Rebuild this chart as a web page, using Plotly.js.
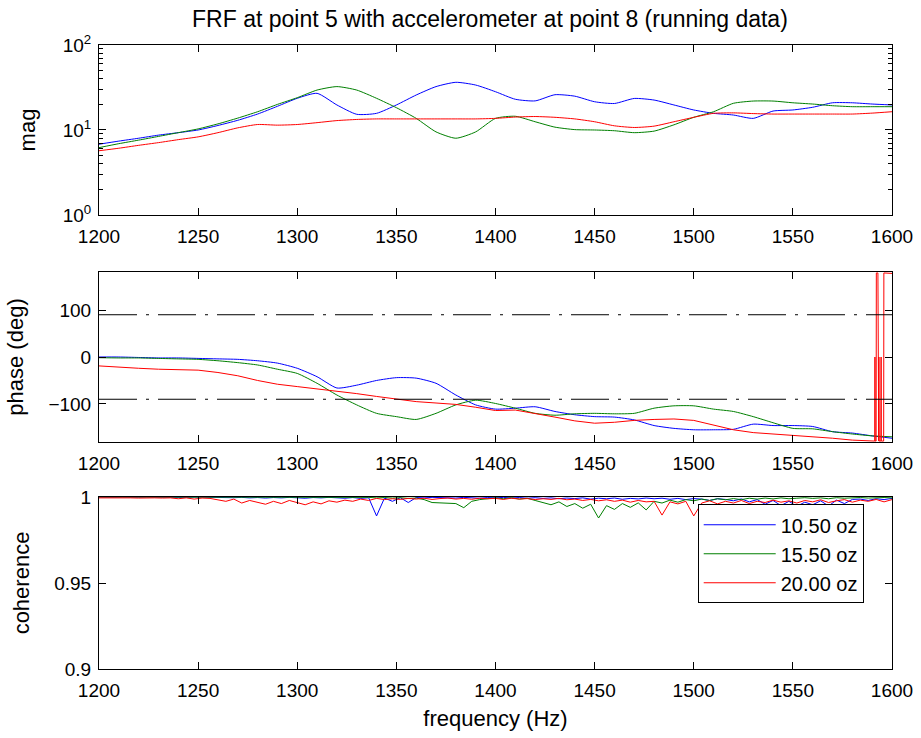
<!DOCTYPE html>
<html>
<head>
<meta charset="utf-8">
<script src="https://cdn.plot.ly/plotly-3.0.1.min.js"></script>
<style>html,body{margin:0;padding:0;background:#fff;}#chart{width:921px;height:738px;}</style>
</head>
<body>
<div id="chart"></div>
<script>
// ---------- data ----------
const seriesNames = ['10.50 oz', '15.50 oz', '20.00 oz'];
const seriesColors = ['#0000ff', '#007f00', '#ff0000'];

const freq = [1200,1210,1220,1230,1240,1250,1260,1270,1280,1290,1300,1310,1320,1330,1340,1350,1360,1370,1380,1390,
  1400,1410,1420,1430,1440,1450,1460,1470,1480,1490,1500,1510,1520,1530,1540,1550,1560,1570,1580,1590,1600];

const magBlue = [6.8,7.4,8.0,8.7,9.3,10.0,11.3,13.0,15.4,19.0,23.6,27.0,19.7,15.3,15.7,19.7,25.8,32.4,36.4,33.8,
  28.2,23.0,22.0,26.0,25.0,21.5,20.5,23.5,22.5,19.7,17.2,15.7,15.0,13.7,16.7,17.2,18.5,20.9,20.9,20.2,19.7];
const magGreen = [6.2,6.9,7.6,8.4,9.3,10.3,11.8,13.8,16.4,20.0,24.0,29.5,32.4,29.5,23.6,18.3,13.7,9.5,8.0,9.5,
  13.7,14.5,12.5,10.8,10.1,10.0,9.8,9.3,9.7,11.5,14.1,16.4,20.6,21.9,21.9,20.9,20.2,19.3,18.8,18.8,18.8];
const magRed = [5.7,6.1,6.6,7.1,7.7,8.3,9.3,10.6,11.6,11.4,11.6,12.2,12.9,13.3,13.5,13.5,13.5,13.5,13.5,13.5,
  13.7,14.2,14.4,14.1,13.5,12.5,11.2,10.7,11.1,12.5,14.1,15.7,15.9,15.6,15.4,15.4,15.4,15.4,15.4,15.8,16.4];

const phaseBlue = [0,0,-1,-2,-2,-3,-4,-5,-8,-13,-24,-42,-66,-60,-50,-44,-45,-56,-81,-102,
  -111,-109,-106,-116,-123,-127,-128,-134,-146,-152,-155,-155,-154,-143,-146,-146,-148,-159,-162,-168,-173];
const phaseGreen = [-1.5,-2,-2,-3,-4,-5,-8,-12,-17,-26,-35,-56,-81,-102,-120,-127,-133,-120,-102,-92,
  -99,-109,-120,-124,-121,-120,-121,-120,-109,-104,-104,-111,-116,-127,-140,-152,-153,-159,-164,-168,-170];
const phaseRedFreq = [1200,1210,1220,1230,1240,1250,1260,1270,1280,1290,1300,1310,1320,1330,1340,1350,1360,1370,1380,1390,
  1400,1410,1420,1430,1440,1450,1460,1470,1480,1490,1500,1510,1520,1530,1540,1550,1560,1570,1580,1590,
  1591.3,1591.4,1591.5,1592.0,1592.1,1592.9,1593.0,1593.3,1593.4,1593.5,1594.4,1594.5,1594.6,1595.8,1595.9,1600];
const phaseRed = [-19,-22,-24,-26,-27,-28,-33,-40,-50,-58,-63,-68,-72,-78,-84,-90,-95,-98,-101,-107,
  -114,-113,-120,-128,-136,-141,-139,-135,-133,-132,-135,-145,-155,-161,-164,-166,-170,-173,-177,-179,
  -179,0,-179,-179,179,179,-179,-179,0,-179,-179,0,-179,-179,179,178];

const phaseRefLevels = [90, -90];

const cohFreq = [1200,1204,1208,1212,1216,1220,1224,1228,1232,1236,1240,1244,1248,1252,1256,1260,1264,1268,1272,1276,
  1280,1284,1288,1292,1296,1300,1304,1308,1312,1316,1320,1324,1328,1332,1336,1340,1344,1348,1352,1356,
  1360,1364,1368,1372,1376,1380,1384,1388,1392,1396,1400,1404,1408,1412,1416,1420,1424,1428,1432,1436,
  1440,1444,1448,1452,1456,1460,1464,1468,1472,1476,1480,1484,1488,1492,1496,1500,1504,1508,1512,1516,
  1520,1524,1528,1532,1536,1540,1544,1548,1552,1556,1560,1564,1568,1572,1576,1580,1584,1588,1592,1596,1600];
const cohBlue = [1.0,0.9998,0.9999,1.0,0.9998,0.9999,1.0,0.9999,0.9998,1.0,
  0.9999,0.9998,1.0,0.9999,0.9997,0.9999,0.9998,0.9996,0.9998,0.9995,
  0.9997,0.9994,0.9997,0.9995,0.9998,0.9996,0.9993,0.9997,0.9995,0.9998,
  0.9996,0.9993,0.9997,0.9992,0.9996,0.9890,0.9994,0.9975,0.9996,0.9968,
  0.9997,0.9995,0.9998,0.9996,0.9997,0.9994,0.9998,0.9996,0.9993,0.9997,
  0.9995,0.9998,0.9994,0.9997,0.9993,0.9996,0.9992,0.9995,0.9990,0.9994,
  0.9991,0.9995,0.9988,0.9993,0.9990,0.9994,0.9987,0.9992,0.9989,0.9994,
  0.9990,0.9993,0.9987,0.9992,0.9985,0.9991,0.9988,0.9980,0.9990,0.9986,
  0.9978,0.9989,0.9972,0.9985,0.9958,0.9980,0.9950,0.9975,0.9946,0.9970,
  0.9955,0.9978,0.9948,0.9982,0.9962,0.9986,0.9988,0.9980,0.9990,0.9985,
  0.9992];
const cohGreen = [1.0,1.0,0.9999,1.0,1.0,0.9999,1.0,1.0,0.9999,1.0,
  1.0,0.9999,1.0,1.0,0.9999,1.0,0.9999,1.0,0.9998,1.0,
  0.9999,1.0,0.9998,0.9999,1.0,0.9998,0.9999,0.9997,0.9999,0.9998,
  0.9999,0.9997,0.9998,0.9996,0.9998,0.9995,0.9997,0.9994,0.9996,0.9992,
  0.9994,0.9985,0.9968,0.9966,0.9964,0.9962,0.9938,0.9975,0.9985,0.9992,
  0.9995,0.9990,0.9996,0.9988,0.9993,0.9980,0.9968,0.9955,0.9972,0.9945,
  0.9962,0.9935,0.9958,0.9878,0.9950,0.9928,0.9962,0.9940,0.9966,0.9925,
  0.9975,0.9965,0.9982,0.9970,0.9985,0.9978,0.9988,0.9980,0.9990,0.9984,
  0.9991,0.9985,0.9993,0.9988,0.9994,0.9989,0.9995,0.9990,0.9993,0.9996,
  0.9992,0.9995,0.9990,0.9996,0.9993,0.9995,0.9997,0.9994,0.9996,0.9997,
  0.9995];
const cohRed = [0.9995,0.9996,0.9995,0.9996,0.9995,0.9994,0.9996,0.9995,0.9994,0.9995,
  0.9990,0.9995,0.9988,0.9994,0.9992,0.9985,0.9975,0.9988,0.9965,0.9980,
  0.9970,0.9958,0.9975,0.9962,0.9980,0.9968,0.9955,0.9972,0.9960,0.9978,
  0.9970,0.9982,0.9975,0.9988,0.9980,0.9992,0.9985,0.9990,0.9986,0.9992,
  0.9988,0.9993,0.9986,0.9991,0.9994,0.9988,0.9992,0.9987,0.9993,0.9990,
  0.9992,0.9986,0.9993,0.9988,0.9991,0.9985,0.9990,0.9986,0.9992,0.9984,
  0.9988,0.9980,0.9986,0.9978,0.9984,0.9975,0.9982,0.9970,0.9980,0.9972,
  0.9975,0.9895,0.9972,0.9960,0.9975,0.9890,0.9965,0.9978,0.9960,0.9975,
  0.9965,0.9980,0.9962,0.9975,0.9968,0.9982,0.9970,0.9978,0.9965,0.9980,
  0.9972,0.9984,0.9968,0.9978,0.9985,0.9970,0.9982,0.9975,0.9986,0.9972,
  0.9985];

const xTicks = [1200,1250,1300,1350,1400,1450,1500,1550,1600];
const magTicks = [1, 10, 100];
const magTickText = ['10<sup>0</sup>', '10<sup>1</sup>', '10<sup>2</sup>'];
const magMinorTicks = [2,3,4,5,6,7,8,9,20,30,40,50,60,70,80,90];
const phaseTicks = [-100, 0, 100];
const cohTicks = [0.9, 0.95, 1];
const cohTickText = ['0.9', '0.95', '1'];

// ---------- traces ----------
const FONT = 'Liberation Sans, Arial, Helvetica, sans-serif';
const traces = [];
const magSets = [magBlue, magGreen, magRed];
magSets.forEach((m, i) => traces.push({
  x: freq, y: m, type: 'scatter', mode: 'lines', xaxis: 'x3', yaxis: 'y3',
  line: {color: seriesColors[i], width: 1, shape: 'spline', smoothing: 0.6},
  showlegend: false, hoverinfo: 'skip'
}));
traces.push({x: freq, y: phaseBlue, type: 'scatter', mode: 'lines', xaxis: 'x2', yaxis: 'y2',
  line: {color: seriesColors[0], width: 1, shape: 'spline', smoothing: 0.6}, showlegend: false});
traces.push({x: freq, y: phaseGreen, type: 'scatter', mode: 'lines', xaxis: 'x2', yaxis: 'y2',
  line: {color: seriesColors[1], width: 1, shape: 'spline', smoothing: 0.6}, showlegend: false});
traces.push({x: phaseRedFreq, y: phaseRed, type: 'scatter', mode: 'lines', xaxis: 'x2', yaxis: 'y2',
  line: {color: seriesColors[2], width: 1}, showlegend: false, cliponaxis: true});
phaseRefLevels.forEach(v => traces.push({
  x: [xTicks[0], xTicks[xTicks.length - 1]], y: [v, v], type: 'scatter', mode: 'lines',
  xaxis: 'x2', yaxis: 'y2', line: {color: '#000', width: 1, dash: '38px,9px,3px,9px'}, showlegend: false
}));
const cohSets = [cohBlue, cohGreen, cohRed];
cohSets.forEach((c, i) => traces.push({
  x: cohFreq, y: c, type: 'scatter', mode: 'lines', xaxis: 'x', yaxis: 'y',
  name: seriesNames[i], line: {color: seriesColors[i], width: 1}, showlegend: true
}));

// ---------- layout ----------
const TICKSIZE = 19, TITLESIZE = 22;
function xAx(anchor, title) {
  const a = {
    anchor: anchor, range: [1200, 1600], tickmode: 'array', tickvals: xTicks,
    ticks: 'inside', ticklen: 7, tickcolor: '#000', showline: true, linecolor: '#000', linewidth: 1,
    mirror: 'ticks', showgrid: false, zeroline: false, ticklabelstandoff: 4,
    tickfont: {family: FONT, size: TICKSIZE, color: '#000'}
  };
  if (title) a.title = {text: title, font: {family: FONT, size: TITLESIZE, color: '#000'}, standoff: 10};
  return a;
}
function yBase(domain, title, standoff) {
  return {
    domain: domain, ticks: 'inside', ticklen: 7, tickcolor: '#000', showline: true, linecolor: '#000',
    linewidth: 1, mirror: 'ticks', showgrid: false, zeroline: false, ticklabelstandoff: 3,
    tickfont: {family: FONT, size: TICKSIZE, color: '#000'},
    title: {text: title, font: {family: FONT, size: TITLESIZE, color: '#000'}, standoff: standoff}
  };
}
const y3 = Object.assign(yBase([0.7276, 1.0], 'mag', 20), {
  anchor: 'x3', type: 'log', range: [0, 2], tickmode: 'array', tickvals: magTicks, ticktext: magTickText,
  minor: {tickmode: 'array', tickvals: magMinorTicks, ticks: 'inside', ticklen: 4, tickcolor: '#000', showgrid: false}
});
const y2 = Object.assign(yBase([0.3638, 0.6362], 'phase (deg)', 18), {
  anchor: 'x2', range: [-181, 181], tickmode: 'array', tickvals: phaseTicks
});
const y1 = Object.assign(yBase([0, 0.2756], 'coherence', 18), {
  anchor: 'x', range: [0.9, 1.0], tickmode: 'array', tickvals: cohTicks, ticktext: cohTickText
});

const layout = {
  width: 921, height: 738,
  margin: {l: 99, r: 29, t: 45, b: 69},
  paper_bgcolor: '#fff', plot_bgcolor: '#fff',
  font: {family: FONT, size: TICKSIZE, color: '#000'},
  title: {text: 'FRF at point 5 with accelerometer at point 8 (running data)',
    font: {family: FONT, size: 23, color: '#000'}, x: 0.493, xref: 'paper', xanchor: 'center',
    y: 0.975, yref: 'container', yanchor: 'middle'},
  xaxis: xAx('y', 'frequency (Hz)'),
  xaxis2: xAx('y2'),
  xaxis3: xAx('y3'),
  yaxis: y1, yaxis2: y2, yaxis3: y3,
  showlegend: true,
  legend: {x: 0.755, y: 0.264, xanchor: 'left', yanchor: 'top', bgcolor: '#fff',
    bordercolor: '#000', borderwidth: 1, font: {family: FONT, size: 20, color: '#000'},
    itemwidth: 72, tracegroupgap: 0}
};

Plotly.newPlot('chart', traces, layout, {staticPlot: true, displayModeBar: false});
</script>
</body>
</html>
